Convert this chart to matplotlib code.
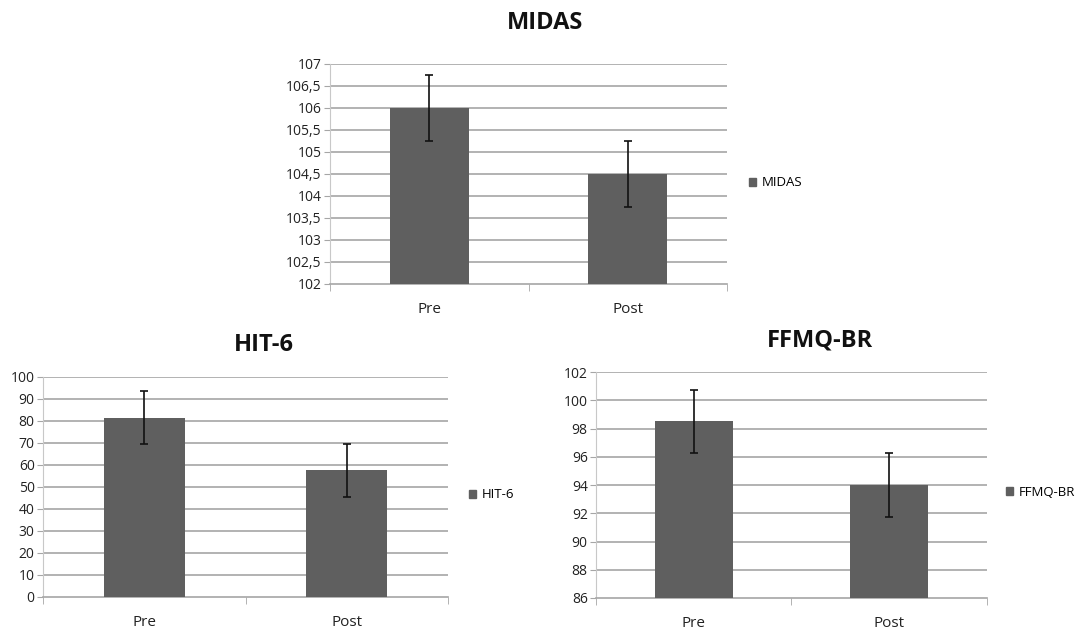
import matplotlib
matplotlib.use("Agg")
import matplotlib.pyplot as plt
import numpy as np

plt.rcParams['font.family'] = ['Open Sans', 'DejaVu Sans']

categories = ["Pre", "Post"]

midas_values = [106.0, 104.5]
midas_errors = [0.75, 0.75]
midas_ticks = [102, 102.5, 103, 103.5, 104, 104.5, 105, 105.5, 106, 106.5, 107]

hit_values = [81.5, 57.5]
hit_errors = [12.0, 12.0]
hit_ticks = [0, 10, 20, 30, 40, 50, 60, 70, 80, 90, 100]

ffmq_values = [98.5, 94.0]
ffmq_errors = [2.2, 2.25]
ffmq_ticks = [86, 88, 90, 92, 94, 96, 98, 100, 102]

BAR = "#5f5f5f"
GRID = "#a6a6a6"

W, H = 1084, 638
fig = plt.figure(figsize=(W / 100, H / 100), dpi=100)


def fmt(v):
    if float(v).is_integer():
        return str(int(v))
    return ("%g" % v).replace(".", ",")


def panel(rect, title, values, errors, ticks, legend_xy, title_xy):
    ax = fig.add_axes(rect)
    x = np.arange(len(categories))
    ax.bar(x, values, width=0.4, color=BAR, zorder=3, label=title)
    ax.errorbar(x, values, yerr=errors, fmt="none", ecolor="#111111",
                elinewidth=1.2, capsize=3, capthick=1.2, zorder=4)
    ax.set_xlim(-0.5, 1.5)
    ax.set_ylim(ticks[0], ticks[-1])
    ax.set_yticks(ticks)
    ax.set_yticklabels([fmt(t) for t in ticks], fontsize=10, color="#222222")
    ax.set_xticks(x)
    ax.set_xticklabels(categories, fontsize=11, color="#222222")
    ax.set_xticks([-0.5, 0.5, 1.5], minor=True)
    ax.tick_params(axis="x", which="major", length=0, pad=13)
    ax.tick_params(axis="x", which="minor", length=5, color=GRID, direction="out")
    ax.tick_params(axis="y", length=4, color=GRID, pad=2)
    for y in ticks[1:]:
        ax.axhline(y, color=GRID, lw=1.2, zorder=1)
    for s in ["top", "right"]:
        ax.spines[s].set_visible(False)
    ax.spines["left"].set_color("#c8c8c8")
    ax.spines["bottom"].set_color(GRID)
    ax.spines["bottom"].set_linewidth(1.2)
    fig.text(title_xy[0] / W, 1 - title_xy[1] / H, title, fontsize=17,
             fontweight="bold", color="#111111", ha="center", va="baseline")
    fig.legend(handles=[plt.Rectangle((0, 0), 1, 1, color=BAR)], labels=[title],
               loc="center left", bbox_to_anchor=legend_xy, frameon=False,
               fontsize=9.5, handlelength=0.55, handleheight=0.55,
               handletextpad=0.4, borderpad=0, borderaxespad=0)
    return ax


panel([0.3044, 0.5549, 0.3663, 0.3448], "MIDAS", midas_values, midas_errors,
      midas_ticks, (749 / W, 1 - 183 / H), (545, 29))
panel([0.0397, 0.0643, 0.3736, 0.3448], "HIT-6", hit_values, hit_errors,
      hit_ticks, (469 / W, 1 - 495 / H), (264, 351))
panel([0.5498, 0.0627, 0.3607, 0.3542], "FFMQ-BR", ffmq_values, ffmq_errors,
      ffmq_ticks, (1006 / W, 1 - 492 / H), (820, 347))

fig.savefig("out.png", dpi=100, facecolor="white")
